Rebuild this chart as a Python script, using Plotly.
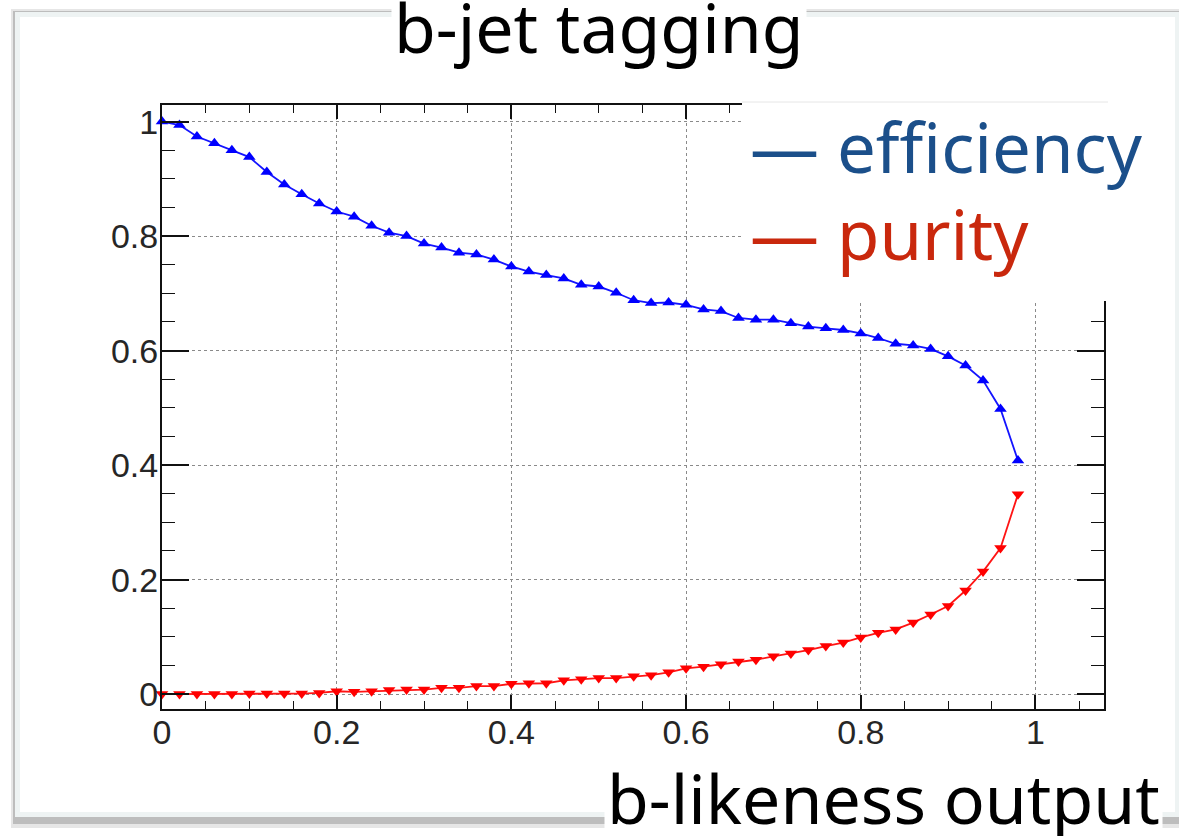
import plotly.graph_objects as go

# ---------------- data ----------------
b_likeness = [0.00, 0.02, 0.04, 0.06, 0.08, 0.10, 0.12, 0.14, 0.16, 0.18,
              0.20, 0.22, 0.24, 0.26, 0.28, 0.30, 0.32, 0.34, 0.36, 0.38,
              0.40, 0.42, 0.44, 0.46, 0.48, 0.50, 0.52, 0.54, 0.56, 0.58,
              0.60, 0.62, 0.64, 0.66, 0.68, 0.70, 0.72, 0.74, 0.76, 0.78,
              0.80, 0.82, 0.84, 0.86, 0.88, 0.90, 0.92, 0.94, 0.96, 0.98]

efficiency = [1.000, 0.994, 0.974, 0.962, 0.950, 0.938, 0.912, 0.890, 0.873, 0.857,
              0.843, 0.834, 0.818, 0.806, 0.800, 0.787, 0.780, 0.771, 0.768, 0.759,
              0.747, 0.738, 0.732, 0.726, 0.715, 0.712, 0.701, 0.688, 0.683, 0.684,
              0.680, 0.672, 0.669, 0.657, 0.654, 0.654, 0.648, 0.642, 0.639, 0.636,
              0.630, 0.622, 0.612, 0.609, 0.603, 0.590, 0.574, 0.548, 0.498, 0.408]

purity = [0.000, 0.000, 0.000, 0.000, 0.000, 0.001, 0.001, 0.001, 0.001, 0.002,
          0.005, 0.004, 0.005, 0.007, 0.008, 0.008, 0.011, 0.011, 0.014, 0.014,
          0.018, 0.019, 0.019, 0.024, 0.026, 0.028, 0.028, 0.031, 0.033, 0.038,
          0.045, 0.048, 0.052, 0.057, 0.060, 0.066, 0.071, 0.077, 0.084, 0.090,
          0.099, 0.107, 0.113, 0.125, 0.139, 0.154, 0.181, 0.214, 0.255, 0.349]

title_text = "b-jet tagging"
xlabel_text = "b-likeness output"
legend_labels = ["efficiency", "purity"]

# ---------------- layout geometry (pixels) ----------------
W, H = 1179, 836
ML, MR, MT, MB = 162, 75, 105, 127
PW, PH = W - ML - MR, H - MT - MB


def px(xp):
    return (xp - ML) / PW


def py(yp):
    return (H - MB - yp) / PH


fig = go.Figure()

fig.add_trace(go.Scatter(
    x=b_likeness, y=efficiency, mode="lines+markers", name=legend_labels[0],
    line=dict(color="#1414ff", width=1.8),
    marker=dict(symbol="triangle-up", size=11, color="#0000ff"),
    showlegend=False, cliponaxis=False))

fig.add_trace(go.Scatter(
    x=b_likeness, y=purity, mode="lines+markers", name=legend_labels[1],
    line=dict(color="#ff1414", width=1.8),
    marker=dict(symbol="triangle-down", size=11, color="#ff0000"),
    showlegend=False, cliponaxis=False))

tickfont = dict(family="Liberation Sans, Arial, sans-serif", size=34, color="#262626")

fig.update_xaxes(
    range=[0, 1.0785], tick0=0, dtick=0.2, tickformat="~g",
    showline=True, linecolor="#111111", linewidth=2, mirror="allticks",
    ticks="inside", ticklen=14, tickwidth=1.5, tickcolor="#111111",
    minor=dict(ticks="inside", dtick=0.05, ticklen=8, tickwidth=1.2,
               tickcolor="#111111", showgrid=False),
    showgrid=True, gridcolor="#8a8a8a", griddash="dot", gridwidth=1.4,
    zeroline=False, tickfont=tickfont, ticklabelstandoff=-8)

fig.update_yaxes(
    range=[-0.026, 1.029], tick0=0, dtick=0.2, tickformat="~g",
    showline=True, linecolor="#111111", linewidth=2, mirror="allticks",
    ticks="inside", ticklen=27, tickwidth=1.5, tickcolor="#111111",
    minor=dict(ticks="inside", dtick=0.05, ticklen=13, tickwidth=1.2,
               tickcolor="#111111", showgrid=False),
    showgrid=True, gridcolor="#8a8a8a", griddash="dot", gridwidth=1.4,
    zeroline=False, tickfont=tickfont, ticklabelstandoff=-5)

shapes = []
# slide panel with shadow
shapes.append(dict(type="rect", xref="paper", yref="paper", layer="below",
                   x0=px(11), x1=px(1185), y0=py(9), y1=py(828),
                   fillcolor="#e6e6e6", line=dict(width=0)))
shapes.append(dict(type="rect", xref="paper", yref="paper", layer="below",
                   x0=px(13), x1=px(1183), y0=py(11), y1=py(824),
                   fillcolor="#bdbdbd", line=dict(width=0)))
shapes.append(dict(type="rect", xref="paper", yref="paper", layer="below",
                   x0=px(15), x1=px(1181), y0=py(12), y1=py(817),
                   fillcolor="#eef3f3", line=dict(width=0)))
shapes.append(dict(type="rect", xref="paper", yref="paper", layer="below",
                   x0=px(20), x1=px(1175), y0=py(17), y1=py(812),
                   fillcolor="#ffffff", line=dict(width=0)))
# legend box covering frame corner
shapes.append(dict(type="rect", xref="paper", yref="paper", layer="above",
                   x0=px(742), x1=px(1108), y0=py(102), y1=py(301),
                   fillcolor="#ffffff", line=dict(width=0)))
shapes.append(dict(type="line", xref="paper", yref="paper", layer="above",
                   x0=px(742), x1=px(1108), y0=py(102), y1=py(102),
                   line=dict(color="#e6e6e6", width=1)))

big = "Noto Sans, DejaVu Sans, sans-serif"
annotations = [
    dict(text=title_text, xref="paper", yref="paper", x=px(599), y=py(27),
         xanchor="center", yanchor="middle", showarrow=False,
         font=dict(family=big, size=68, color="#000000"),
         bgcolor="#ffffff", borderpad=2),
    dict(text=xlabel_text, xref="paper", yref="paper", x=px(883), y=py(797),
         xanchor="center", yanchor="middle", showarrow=False,
         font=dict(family=big, size=68, color="#000000"),
         bgcolor="#ffffff", borderpad=2),
    dict(text="\u2014 " + legend_labels[0], xref="paper", yref="paper",
         x=px(748), y=py(146), xanchor="left", yanchor="middle", showarrow=False,
         font=dict(family=big, size=69, color="#1b4f8a")),
    dict(text="\u2014 " + legend_labels[1], xref="paper", yref="paper",
         x=px(748), y=py(233), xanchor="left", yanchor="middle", showarrow=False,
         font=dict(family=big, size=69, color="#c9280d")),
]

fig.update_layout(
    width=W, height=H, autosize=False,
    margin=dict(l=ML, r=MR, t=MT, b=MB, pad=0),
    paper_bgcolor="#ffffff", plot_bgcolor="rgba(0,0,0,0)",
    shapes=shapes, annotations=annotations, showlegend=False)

fig.write_html("out.html")
